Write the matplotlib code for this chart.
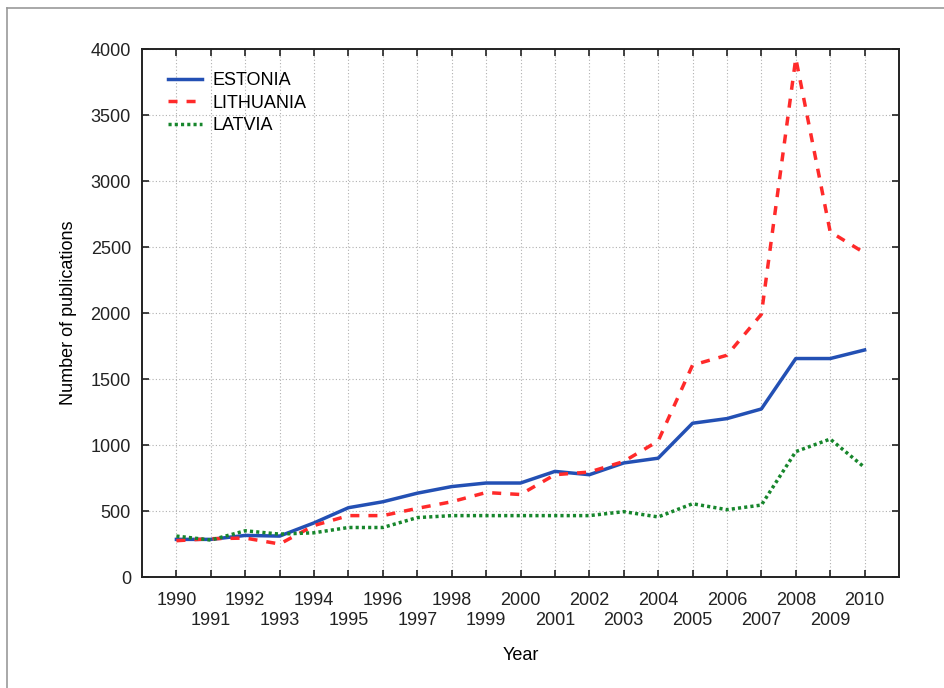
import numpy as np
import matplotlib
matplotlib.use('Agg')
from matplotlib import pyplot as plt
from matplotlib.lines import Line2D

years = np.arange(1990, 2011)
estonia = [285, 285, 315, 310, 410, 525, 570, 635, 685, 712, 712, 800, 775, 864, 900,
           1165, 1200, 1273, 1655, 1655, 1720]
lithuania = [275, 290, 295, 250, 390, 465, 465, 520, 570, 640, 625, 775, 795, 875, 1030,
             1605, 1680, 1990, 3930, 2615, 2455]
latvia = [310, 280, 350, 325, 335, 375, 375, 450, 465, 465, 465, 465, 465, 495, 455,
          555, 510, 545, 950, 1045, 830]
yticks = np.arange(0, 4001, 500)

plt.rcParams['font.family'] = ['Liberation Sans', 'DejaVu Sans']

fig = plt.figure(figsize=(9.44, 6.88), dpi=100)
ax = fig.add_axes([142/944, 1-577/688, (899-142)/944, (577-49)/688])

ax.plot(years, estonia, color='#2350b4', lw=2.5, ls='-', label='ESTONIA')
ax.plot(years, lithuania, color='#ff2a2a', lw=2.5, ls=(0, (2.6, 2.6)), label='LITHUANIA')
ax.plot(years, latvia, color='#17862c', lw=2.5, ls=(0, (0.9, 0.9)), label='LATVIA')

ax.set_xlim(1989, 2011)
ax.set_ylim(0, 4000)
ax.set_yticks(yticks)
even = years[years % 2 == 0]
odd = years[years % 2 == 1]
ax.set_xticks(even)
ax.set_xticklabels([str(y) for y in even])
ax.set_xticks(odd, minor=True)
ax.set_xticklabels([str(y) for y in odd], minor=True)
ax.tick_params(which='both', direction='in', top=True, right=True, length=5, width=1.2,
               labelsize=13, colors='#222222')
ax.tick_params(axis='x', which='major', pad=11)
ax.tick_params(axis='x', which='minor', pad=25)
ax.tick_params(axis='y', pad=8)
for s in ax.spines.values():
    s.set_linewidth(1.4)
    s.set_color('#222222')
ax.grid(True, which='both', axis='x', ls=(0, (1, 2)), color='#b0b0b0', lw=0.8)
ax.grid(True, axis='y', ls=(0, (1, 2)), color='#b0b0b0', lw=0.8)

ax.set_xlabel('Year', fontsize=13, labelpad=13)
ax.set_ylabel('Number of publications', fontsize=13, labelpad=10)

ax.legend(loc='upper left', frameon=False, fontsize=13, handlelength=1.9,
          handletextpad=0.6, labelspacing=0.3, borderaxespad=0.6,
          bbox_to_anchor=(0.01, 0.99))

# thin gray frame at left and top of the figure
fig.add_artist(Line2D([7/944, 7/944], [0, 1-8/688], color='#999999', lw=1.2))
fig.add_artist(Line2D([7/944, 1], [1-8/688, 1-8/688], color='#999999', lw=1.2))

fig.savefig('out.png', dpi=100)
